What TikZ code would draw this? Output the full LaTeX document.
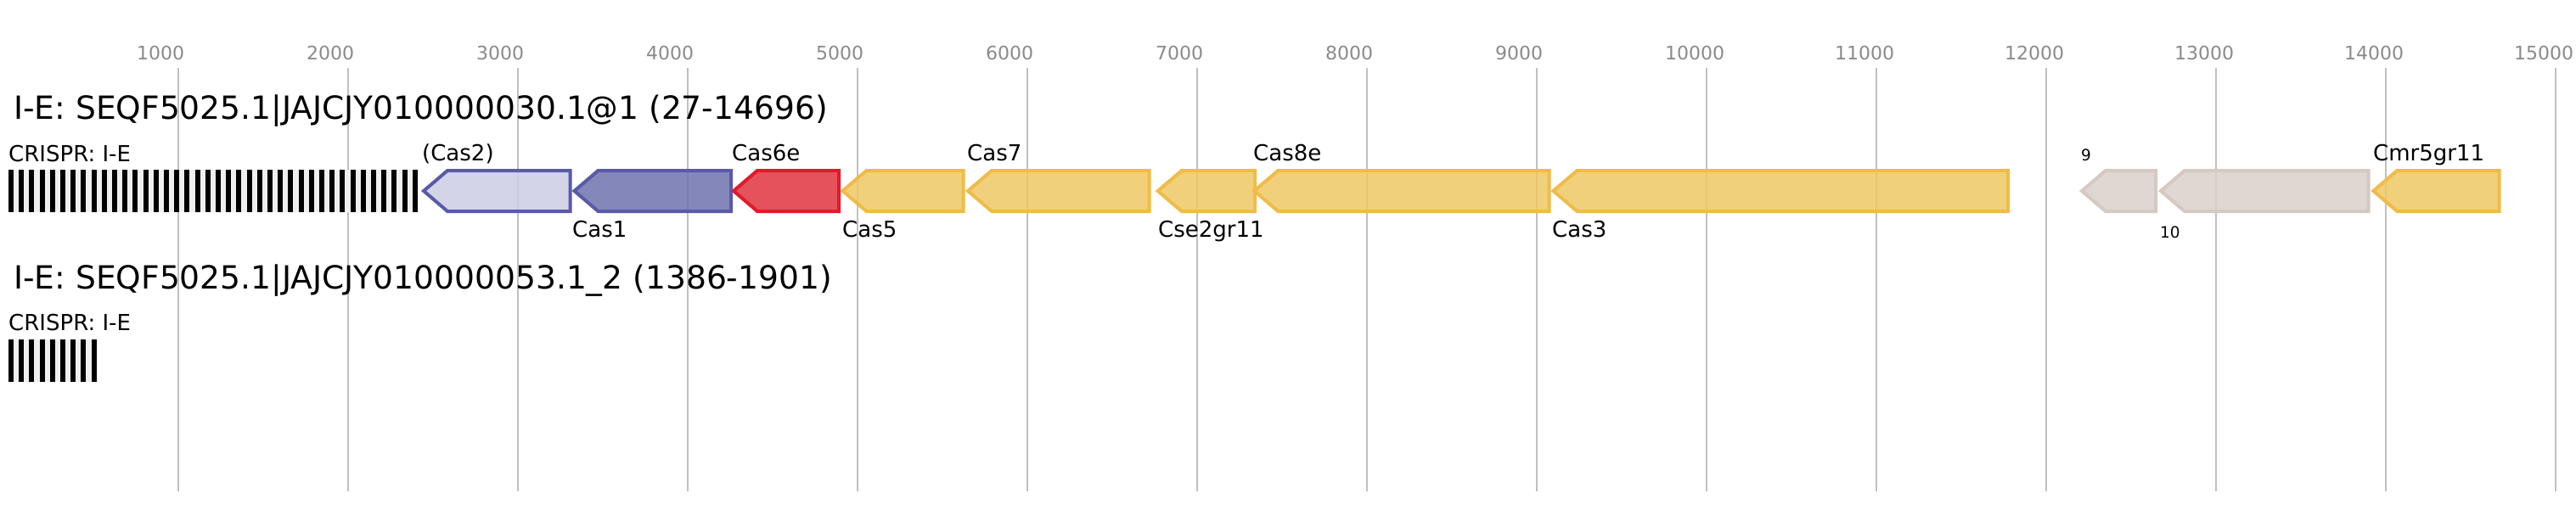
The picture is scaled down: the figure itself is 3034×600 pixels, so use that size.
\documentclass[tikz,border=0pt]{standalone}
\usepackage{fontspec}
\setmainfont{DejaVu Sans}
\definecolor{gridgray}{HTML}{C0C0C0}
\definecolor{tickgray}{HTML}{8A8A8A}
\definecolor{spacergray}{HTML}{EFEFEF}
\definecolor{casblue}{HTML}{5A5AA8}
\definecolor{caslav}{HTML}{CBCCE4}
\definecolor{casmid}{HTML}{6E72AE}
\definecolor{casred}{HTML}{DF1B2A}
\definecolor{casredfill}{HTML}{E13440}
\definecolor{casyel}{HTML}{EFBC48}
\definecolor{casyelfill}{HTML}{EFC865}
\definecolor{casgray}{HTML}{D5C9C1}
\definecolor{casgrayfill}{HTML}{D8D0CA}
\newcommand{\genearrow}[3]{\draw[gene,#3] (#1+3,225) -- (#1+31,201) -- (#2-2,201) -- (#2-2,249) -- (#1+31,249) -- cycle;}
\tikzset{
  gene/.style={line width=4pt,line join=miter,fill opacity=0.85},
  gridline/.style={draw=gridgray,line width=2pt},
  lbl/.style={anchor=base west,inner sep=0pt,font=\fontsize{26}{28}\selectfont},
  smalllbl/.style={anchor=base west,inner sep=0pt,font=\fontsize{18.5}{20}\selectfont},
  ticklbl/.style={anchor=base west,inner sep=0pt,text=tickgray,font=\fontsize{22}{24}\selectfont},
  titlelbl/.style={anchor=base west,inner sep=0pt,font=\fontsize{37.6}{40}\selectfont}
}
\begin{document}
\begin{tikzpicture}[x=1pt,y=-1pt]
\useasboundingbox (0,0) rectangle (3034,600);
% scale
\foreach \k in {1,...,15} {
  \draw[gridline] (10+\k*200,80) -- (10+\k*200,579);
  \node[ticklbl] (tick\k) at (\k*200-39,70) {\k000};
}
% locus 1
\node[titlelbl] (title1) at (16,140) {I-E: SEQF5025.1|JAJCJY010000030.1@1 (27-14696)};
\node[lbl] (crispr1) at (10,190) {CRISPR: I-E};
\fill[spacergray] (10,200) rectangle (491.8,250);
\foreach \i in {0,...,39} \fill[black] (10+\i*12.2,200) rectangle (16+\i*12.2,250);
\genearrow{496}{673.5}{draw=casblue,fill=caslav}
\genearrow{673.5}{863}{draw=casblue,fill=casmid}
\genearrow{861}{990}{draw=casred,fill=casredfill}
\genearrow{989.5}{1136.5}{draw=casyel,fill=casyelfill}
\genearrow{1137}{1355.7}{draw=casyel,fill=casyelfill}
\genearrow{1360.7}{1480}{draw=casyel,fill=casyelfill}
\genearrow{1474.3}{1826.5}{draw=casyel,fill=casyelfill}
\genearrow{1826.5}{2367}{draw=casyel,fill=casyelfill}
\genearrow{2449}{2541}{draw=casgray,fill=casgrayfill}
\genearrow{2542}{2791.7}{draw=casgray,fill=casgrayfill}
\genearrow{2792.3}{2945.7}{draw=casyel,fill=casyelfill}
\node[lbl] (cas2) at (497,189) {(Cas2)};
\node[lbl] (cas1) at (674,279) {Cas1};
\node[lbl] (cas6e) at (862,189) {Cas6e};
\node[lbl] (cas5) at (992,279) {Cas5};
\node[lbl] (cas7) at (1139,189) {Cas7};
\node[lbl] (cse2) at (1364,279) {Cse2gr11};
\node[lbl] (cas8e) at (1476,189) {Cas8e};
\node[lbl] (cas3) at (1828,279) {Cas3};
\node[smalllbl] (orf9) at (2451,189) {9};
\node[smalllbl] (orf10) at (2544,280) {10};
\node[lbl] (cmr5) at (2795,189) {Cmr5gr11};
% locus 2
\node[titlelbl] (title2) at (16,340) {I-E: SEQF5025.1|JAJCJY010000053.1\_2 (1386-1901)};
\node[lbl] (crispr2) at (10,389) {CRISPR: I-E};
\fill[spacergray] (10,400) rectangle (113.6,450);
\foreach \i in {0,...,8} \fill[black] (10+\i*12.2,400) rectangle (16+\i*12.2,450);
\end{tikzpicture}
\end{document}
